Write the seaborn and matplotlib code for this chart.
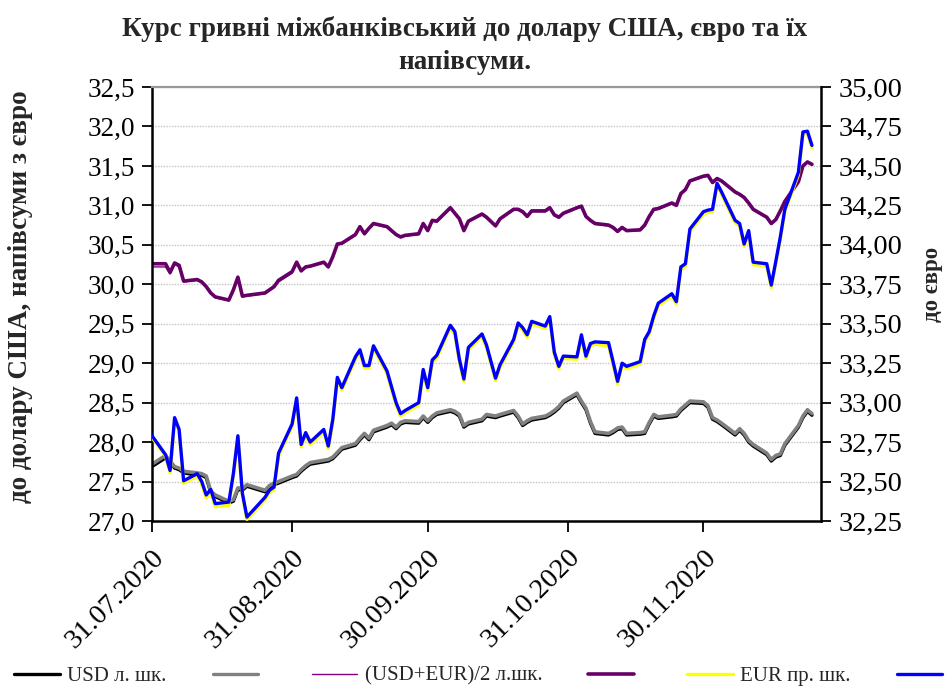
import pandas as pd
import matplotlib
matplotlib.use("Agg")
import matplotlib.pyplot as plt
import matplotlib.dates as mdates
from matplotlib.ticker import FixedLocator, FuncFormatter
from matplotlib.lines import Line2D
import seaborn as sns

# ---------------- data ----------------
days = ["31.07",
        "03.08", "04.08", "05.08", "06.08", "07.08", "10.08", "11.08", "12.08", "13.08", "14.08",
        "17.08", "18.08", "19.08", "20.08", "21.08", "25.08", "26.08", "27.08", "28.08", "31.08",
        "01.09", "02.09", "03.09", "04.09", "07.09", "08.09", "09.09", "10.09", "11.09", "14.09",
        "15.09", "16.09", "17.09", "18.09", "21.09", "22.09", "23.09", "24.09", "25.09", "28.09",
        "29.09", "30.09",
        "01.10", "02.10", "05.10", "06.10", "07.10", "08.10", "09.10", "12.10", "13.10", "15.10",
        "16.10", "19.10", "20.10", "21.10", "22.10", "23.10", "26.10", "27.10", "28.10", "29.10",
        "30.10",
        "02.11", "03.11", "04.11", "05.11", "06.11", "09.11", "10.11", "11.11", "12.11", "13.11",
        "16.11", "17.11", "18.11", "19.11", "20.11", "23.11", "24.11", "25.11", "26.11", "27.11",
        "30.11",
        "01.12", "02.12", "03.12", "04.12", "07.12", "08.12", "09.12", "10.12", "11.12", "14.12",
        "15.12", "16.12", "17.12", "18.12", "21.12", "22.12", "23.12", "24.12"]

usd_a = [27.69,
         27.80, 27.74, 27.67, 27.65, 27.61, 27.58, 27.58, 27.55, 27.36, 27.31, 27.23, 27.25, 27.40,
         27.39, 27.44, 27.37, 27.43, 27.46, 27.48, 27.55,
         27.57, 27.63, 27.68, 27.72, 27.75, 27.76, 27.79, 27.85, 27.91, 27.96, 28.03, 28.09, 28.03,
         28.13, 28.19, 28.22, 28.17, 28.23, 28.25, 28.24, 28.31, 28.25,
         28.31, 28.35, 28.39, 28.37, 28.33, 28.19, 28.23, 28.27, 28.33, 28.31, 28.33, 28.38, 28.31,
         28.21, 28.25, 28.28, 28.31, 28.34, 28.38, 28.43, 28.50,
         28.60, 28.50, 28.41, 28.24, 28.11, 28.09, 28.12, 28.16, 28.17, 28.09, 28.10, 28.11, 28.23,
         28.33, 28.30, 28.32, 28.33, 28.40, 28.45, 28.50, 28.49,
         28.44, 28.29, 28.26, 28.22, 28.09, 28.15, 28.09, 28.00, 27.95, 27.84, 27.76, 27.81, 27.83,
         27.96, 28.19, 28.31, 28.39, 28.34]

usd_b = [27.72,
         27.83, 27.76, 27.69, 27.67, 27.63, 27.61, 27.60, 27.57, 27.38, 27.33, 27.25, 27.27, 27.42,
         27.41, 27.46, 27.39, 27.45, 27.48, 27.50, 27.57,
         27.59, 27.65, 27.70, 27.74, 27.77, 27.78, 27.81, 27.87, 27.93, 27.98, 28.05, 28.11, 28.05,
         28.15, 28.21, 28.24, 28.19, 28.25, 28.27, 28.26, 28.33, 28.27,
         28.33, 28.37, 28.41, 28.39, 28.35, 28.21, 28.25, 28.29, 28.35, 28.33, 28.35, 28.40, 28.33,
         28.23, 28.27, 28.30, 28.33, 28.36, 28.40, 28.45, 28.52,
         28.62, 28.52, 28.43, 28.26, 28.13, 28.11, 28.14, 28.18, 28.19, 28.11, 28.12, 28.13, 28.25,
         28.35, 28.32, 28.34, 28.35, 28.42, 28.47, 28.52, 28.51,
         28.46, 28.31, 28.28, 28.24, 28.11, 28.17, 28.11, 28.02, 27.97, 27.86, 27.78, 27.83, 27.85,
         27.98, 28.21, 28.33, 28.41, 28.36]

mid_a = [30.22,
         30.22, 30.13, 30.25, 30.22, 30.03, 30.05, 30.02, 29.96, 29.88, 29.83, 29.79, 29.92, 30.08,
         29.84, 29.85, 29.88, 29.92, 29.96, 30.03, 30.14,
         30.26, 30.16, 30.21, 30.22, 30.27, 30.21, 30.33, 30.50, 30.51, 30.62, 30.72, 30.63, 30.70,
         30.76, 30.72, 30.67, 30.62, 30.59, 30.61, 30.63, 30.76, 30.67,
         30.80, 30.79, 30.96, 30.89, 30.82, 30.67, 30.79, 30.88, 30.84, 30.73, 30.82, 30.94, 30.94,
         30.91, 30.85, 30.92, 30.92, 30.96, 30.87, 30.84, 30.89,
         30.96, 30.98, 30.85, 30.80, 30.76, 30.74, 30.71, 30.66, 30.71, 30.67, 30.68, 30.74, 30.85,
         30.94, 30.95, 31.02, 30.99, 31.14, 31.19, 31.30, 31.36,
         31.37, 31.28, 31.33, 31.30, 31.16, 31.13, 31.09, 31.02, 30.94, 30.84, 30.76, 30.81, 30.92,
         31.04, 31.29, 31.49, 31.54, 31.51]

mid_b = [30.26,
         30.26, 30.15, 30.27, 30.24, 30.04, 30.06, 30.03, 29.97, 29.89, 29.84, 29.80, 29.93, 30.09,
         29.85, 29.86, 29.89, 29.93, 29.97, 30.05, 30.16,
         30.28, 30.17, 30.22, 30.23, 30.28, 30.22, 30.35, 30.51, 30.52, 30.63, 30.73, 30.64, 30.71,
         30.77, 30.73, 30.68, 30.63, 30.60, 30.62, 30.64, 30.77, 30.68,
         30.81, 30.80, 30.97, 30.90, 30.83, 30.68, 30.80, 30.89, 30.85, 30.74, 30.83, 30.95, 30.95,
         30.92, 30.86, 30.93, 30.93, 30.97, 30.88, 30.85, 30.90,
         30.97, 30.99, 30.86, 30.81, 30.77, 30.75, 30.72, 30.67, 30.72, 30.68, 30.69, 30.75, 30.86,
         30.95, 30.96, 31.03, 31.00, 31.15, 31.20, 31.31, 31.37,
         31.38, 31.29, 31.34, 31.31, 31.17, 31.14, 31.10, 31.03, 30.95, 30.85, 30.77, 30.82, 30.93,
         31.05, 31.30, 31.50, 31.55, 31.52]

eur_a = [32.78,
         32.66, 32.555, 32.89, 32.82, 32.49, 32.535, 32.485, 32.395, 32.43, 32.34, 32.35, 32.535,
         32.78, 32.41, 32.26, 32.385, 32.43, 32.45, 32.665, 32.85,
         33.015, 32.72, 32.795, 32.735, 32.815, 32.71, 32.88, 33.145, 33.08, 33.275, 33.32, 33.22,
         33.22, 33.345, 33.185, 33.085, 32.985, 32.915, 32.935, 32.985, 33.195, 33.08,
         33.255, 33.285, 33.475, 33.435, 33.26, 33.135, 33.335, 33.42, 33.35, 33.14, 33.225, 33.385,
         33.49, 33.46, 33.415, 33.50, 33.47, 33.53, 33.305, 33.215, 33.28,
         33.275, 33.415, 33.28, 33.36, 33.37, 33.36, 33.245, 33.12, 33.235, 33.215, 33.245, 33.385,
         33.435, 33.535, 33.615, 33.675, 33.625, 33.845, 33.865, 34.085, 34.195,
         34.205, 34.21, 34.375, 34.32, 34.14, 34.12, 33.99, 34.075, 33.875, 33.865, 33.73, 33.88,
         34.035, 34.21, 34.445, 34.70, 34.705, 34.615]

eur_b = [32.79,
         32.67, 32.57, 32.905, 32.83, 32.505, 32.55, 32.50, 32.415, 32.45, 32.36, 32.37, 32.55,
         32.79, 32.425, 32.275, 32.40, 32.445, 32.465, 32.68, 32.865,
         33.03, 32.735, 32.81, 32.75, 32.83, 32.725, 32.895, 33.16, 33.095, 33.29, 33.335, 33.235,
         33.235, 33.36, 33.20, 33.10, 33.00, 32.93, 32.95, 33.00, 33.21, 33.095,
         33.27, 33.30, 33.49, 33.45, 33.275, 33.15, 33.35, 33.435, 33.365, 33.155, 33.24, 33.40,
         33.505, 33.475, 33.43, 33.515, 33.485, 33.545, 33.32, 33.23, 33.295,
         33.29, 33.43, 33.295, 33.375, 33.385, 33.38, 33.26, 33.135, 33.25, 33.23, 33.26, 33.40,
         33.45, 33.55, 33.63, 33.69, 33.64, 33.86, 33.88, 34.10, 34.21,
         34.22, 34.225, 34.39, 34.335, 34.155, 34.135, 34.005, 34.09, 33.89, 33.88, 33.745, 33.895,
         34.05, 34.225, 34.46, 34.715, 34.72, 34.63]

legend_labels = ["USD л. шк.", "", "(USD+EUR)/2 л.шк.", "", "EUR пр. шк.", ""]
x_tick_labels = ["31.07.2020", "31.08.2020", "30.09.2020", "31.10.2020", "30.11.2020"]
left_ticks = [27.0, 27.5, 28.0, 28.5, 29.0, 29.5, 30.0, 30.5, 31.0, 31.5, 32.0, 32.5]
right_ticks = [32.25, 32.50, 32.75, 33.00, 33.25, 33.50, 33.75, 34.00, 34.25, 34.50, 34.75, 35.00]
title = "Курс гривні міжбанківський до долару США, євро та їх\nнапівсуми."
left_label = "до долару США, напівсуми з євро"
right_label = "до євро"

# ---------------- figure ----------------
sns.set_theme(style="white")
plt.rcParams['font.family'] = ['Liberation Serif', 'DejaVu Serif']

dates = pd.to_datetime([d + ".2020" for d in days], format="%d.%m.%Y")

W, H = 951, 686
fig = plt.figure(figsize=(W / 100, H / 100), dpi=100)
ax = fig.add_axes([152 / W, 1 - 521 / H, (821 - 152) / W, (521 - 87) / H])
ax2 = ax.twinx()

c_black, c_gray = "#000000", "#808080"
c_pur_thin, c_pur = "#800080", "#660066"
c_yel, c_blue = "#FFFF00", "#0000FF"

sns.lineplot(x=dates, y=usd_a, ax=ax, color=c_black, linewidth=2.4, legend=False)
sns.lineplot(x=dates, y=usd_b, ax=ax, color=c_gray, linewidth=2.6, legend=False)
sns.lineplot(x=dates, y=mid_a, ax=ax, color=c_pur_thin, linewidth=1.0, legend=False)
sns.lineplot(x=dates, y=mid_b, ax=ax, color=c_pur, linewidth=2.6, legend=False)
sns.lineplot(x=dates, y=eur_a, ax=ax2, color=c_yel, linewidth=2.4, legend=False)
sns.lineplot(x=dates, y=eur_b, ax=ax2, color=c_blue, linewidth=2.4, legend=False)

x0 = pd.Timestamp("2020-07-31")
ax.set_xlim(x0, x0 + pd.Timedelta(days=148))
ax.set_ylim(left_ticks[0], left_ticks[-1])
ax2.set_ylim(right_ticks[0], right_ticks[-1])

tick_dates = pd.to_datetime(x_tick_labels, format="%d.%m.%Y")
ax.xaxis.set_major_locator(FixedLocator(mdates.date2num(tick_dates)))
ax.set_xticklabels(x_tick_labels, rotation=45, ha="right", va="top",
                   rotation_mode="anchor", fontsize=20.5)

ax.yaxis.set_major_locator(FixedLocator(left_ticks))
ax.yaxis.set_major_formatter(FuncFormatter(lambda v, p: f"{v:.1f}".replace(".", ",")))
ax2.yaxis.set_major_locator(FixedLocator(right_ticks))
ax2.yaxis.set_major_formatter(FuncFormatter(lambda v, p: f"{v:.2f}".replace(".", ",")))

ax.tick_params(axis="y", left=True, direction="out", length=7, width=1.3,
               pad=5, labelsize=19.5, colors="black")
ax.tick_params(axis="x", bottom=True, direction="out", length=8, width=1.3,
               pad=9, colors="black")
ax2.tick_params(axis="y", right=True, direction="out", length=7, width=1.3,
                pad=6, labelsize=20.5, colors="black")

ax.yaxis.grid(True, color="#c4c4c4", linestyle=(0, (1, 1)), linewidth=1.0)
ax.xaxis.grid(False)
ax2.grid(False)
ax.set_axisbelow(True)

for s in ["left", "bottom"]:
    ax.spines[s].set_color("black")
    ax.spines[s].set_linewidth(1.8)
ax.spines["top"].set_color("#9a9a9a")
ax.spines["top"].set_linewidth(1.6)
ax.spines["right"].set_visible(False)
for s in ["left", "bottom", "top"]:
    ax2.spines[s].set_visible(False)
ax2.spines["right"].set_color("black")
ax2.spines["right"].set_linewidth(1.8)

ax.set_xlabel("")
ax.set_ylabel(left_label, fontsize=19.5, fontweight="bold", va="center")
ax.yaxis.set_label_coords(-0.196, 0.516)
ax2.set_ylabel(right_label, fontsize=16.5, fontweight="bold", rotation=90, va="center")
ax2.yaxis.set_label_coords(1.166, 0.544)

fig.text(465 / W, 1 - 16 / H, title, ha="center", va="top", fontsize=19.5,
         fontweight="bold", linespacing=1.4)

handles = [Line2D([], [], color=c_black, lw=2.4),
           Line2D([], [], color=c_gray, lw=2.4),
           Line2D([], [], color=c_pur_thin, lw=1.0),
           Line2D([], [], color=c_pur, lw=2.6),
           Line2D([], [], color=c_yel, lw=2.4),
           Line2D([], [], color=c_blue, lw=2.4)]
fig.legend(handles, legend_labels, loc="center", bbox_to_anchor=(482 / W, 1 - 676 / H),
           ncol=6, frameon=False, fontsize=15, handlelength=2.2, handletextpad=0.35,
           columnspacing=2.2)

fig.savefig("out.png", dpi=100)
